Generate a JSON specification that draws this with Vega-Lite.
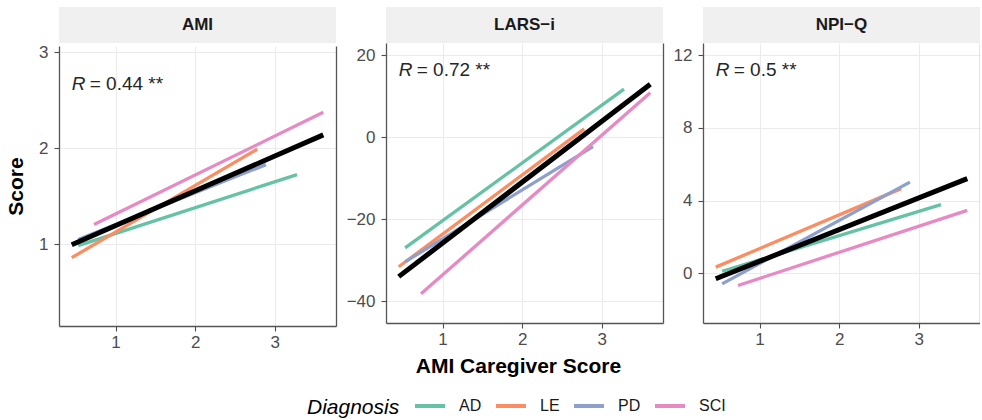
{
  "$schema": "https://vega.github.io/schema/vega-lite/v6.json",
  "padding": {"left": 5, "top": 7, "right": 0, "bottom": 4},
  "background": "white",
  "datasets": {
    "lines": [
      {"Measure": "AMI", "Diagnosis": "AD", "x": 0.53, "y": 0.985},
      {"Measure": "AMI", "Diagnosis": "AD", "x": 3.28, "y": 1.726},
      {"Measure": "AMI", "Diagnosis": "LE", "x": 0.45, "y": 0.86},
      {"Measure": "AMI", "Diagnosis": "LE", "x": 2.78, "y": 1.99},
      {"Measure": "AMI", "Diagnosis": "PD", "x": 0.53, "y": 1.05},
      {"Measure": "AMI", "Diagnosis": "PD", "x": 2.89, "y": 1.83},
      {"Measure": "AMI", "Diagnosis": "SCI", "x": 0.73, "y": 1.205},
      {"Measure": "AMI", "Diagnosis": "SCI", "x": 3.61, "y": 2.375},
      {"Measure": "LARS-i", "Diagnosis": "AD", "x": 0.53, "y": -27.0},
      {"Measure": "LARS-i", "Diagnosis": "AD", "x": 3.28, "y": 11.7},
      {"Measure": "LARS-i", "Diagnosis": "LE", "x": 0.45, "y": -31.6},
      {"Measure": "LARS-i", "Diagnosis": "LE", "x": 2.78, "y": 2.0},
      {"Measure": "LARS-i", "Diagnosis": "PD", "x": 0.53, "y": -30.4},
      {"Measure": "LARS-i", "Diagnosis": "PD", "x": 2.89, "y": -2.3},
      {"Measure": "LARS-i", "Diagnosis": "SCI", "x": 0.73, "y": -38.2},
      {"Measure": "LARS-i", "Diagnosis": "SCI", "x": 3.61, "y": 10.8},
      {"Measure": "NPI-Q", "Diagnosis": "AD", "x": 0.53, "y": 0.12},
      {"Measure": "NPI-Q", "Diagnosis": "AD", "x": 3.28, "y": 3.78},
      {"Measure": "NPI-Q", "Diagnosis": "LE", "x": 0.45, "y": 0.35},
      {"Measure": "NPI-Q", "Diagnosis": "LE", "x": 2.78, "y": 4.66},
      {"Measure": "NPI-Q", "Diagnosis": "PD", "x": 0.53, "y": -0.57},
      {"Measure": "NPI-Q", "Diagnosis": "PD", "x": 2.89, "y": 5.02},
      {"Measure": "NPI-Q", "Diagnosis": "SCI", "x": 0.73, "y": -0.66},
      {"Measure": "NPI-Q", "Diagnosis": "SCI", "x": 3.61, "y": 3.47}
    ],
    "overall": [
      {"Measure": "AMI", "x": 0.45, "y": 0.995},
      {"Measure": "AMI", "x": 3.61, "y": 2.14},
      {"Measure": "LARS-i", "x": 0.45, "y": -34.0},
      {"Measure": "LARS-i", "x": 3.61, "y": 12.9},
      {"Measure": "NPI-Q", "x": 0.45, "y": -0.29},
      {"Measure": "NPI-Q", "x": 3.61, "y": 5.21}
    ],
    "labels": [
      {"Measure": "AMI", "strip": "AMI", "x": 0.45, "y": 2.611, "stat": "= 0.44 **"},
      {"Measure": "LARS-i", "strip": "LARS−i", "x": 0.45, "y": 14.82, "stat": "= 0.72 **"},
      {"Measure": "NPI-Q", "strip": "NPI−Q", "x": 0.45, "y": 10.84, "stat": "= 0.5 **"}
    ]
  },
  "spacing": 10,
  "hconcat": [
    {
      "spacing": 0,
      "vconcat": [
        {
          "width": 277, "height": 36,
          "view": {"fill": "#F0F0F0", "stroke": null},
          "data": {"name": "labels"},
          "transform": [{"filter": "datum.Measure === 'AMI'"}],
          "mark": {"type": "text", "fontSize": 17, "fontWeight": "bold", "color": "#1A1A1A", "baseline": "middle"},
          "encoding": {"text": {"field": "strip"}}
        },
        {
          "width": 277, "height": 280,
          "view": {"stroke": null},
          "layer": [
            {
              "data": {"name": "lines"},
              "transform": [{"filter": "datum.Measure === 'AMI'"}],
              "mark": {"type": "line", "strokeWidth": 3.3, "strokeCap": "butt"},
              "encoding": {
                "x": {"field": "x", "type": "quantitative", "scale": {"domain": [0.29, 3.77], "nice": false, "zero": false}, "axis": {"values": [1, 2, 3], "format": "d", "title": null}},
                "y": {"field": "y", "type": "quantitative", "scale": {"domain": [0.148, 3.066], "nice": false, "zero": false}, "axis": {"values": [1, 2, 3], "format": "d", "title": "Score"}},
                "color": {"field": "Diagnosis", "type": "nominal", "scale": {"domain": ["AD", "LE", "PD", "SCI"], "range": ["#66C2A5", "#FC8D62", "#8DA0CB", "#E78AC3"]}, "legend": {"title": "Diagnosis"}}
              }
            },
            {
              "data": {"name": "overall"},
              "transform": [{"filter": "datum.Measure === 'AMI'"}],
              "mark": {"type": "line", "strokeWidth": 5, "color": "black", "strokeCap": "butt"},
              "encoding": {
                "x": {"field": "x", "type": "quantitative"},
                "y": {"field": "y", "type": "quantitative", "axis": null}
              }
            },
            {
              "data": {"name": "labels"},
              "transform": [{"filter": "datum.Measure === 'AMI'"}],
              "mark": {"type": "text", "fontSize": 19, "fontStyle": "italic", "align": "left", "baseline": "alphabetic", "color": "#262626"},
              "encoding": {
                "x": {"field": "x", "type": "quantitative"},
                "y": {"field": "y", "type": "quantitative", "axis": {"orient": "right", "labels": false, "ticks": false, "grid": false, "title": null}},
                "text": {"value": "R"}
              }
            },
            {
              "data": {"name": "labels"},
              "transform": [{"filter": "datum.Measure === 'AMI'"}],
              "mark": {"type": "text", "fontSize": 19, "align": "left", "baseline": "alphabetic", "dx": 18, "color": "#262626"},
              "encoding": {
                "x": {"field": "x", "type": "quantitative"},
                "y": {"field": "y", "type": "quantitative", "axis": null},
                "text": {"field": "stat"}
              }
            }
          ],
          "resolve": {"axis": {"y": "independent"}}
        }
      ]
    },
    {
      "spacing": 0,
      "vconcat": [
        {
          "width": 277, "height": 36,
          "view": {"fill": "#F0F0F0", "stroke": null},
          "data": {"name": "labels"},
          "transform": [{"filter": "datum.Measure === 'LARS-i'"}],
          "mark": {"type": "text", "fontSize": 17, "fontWeight": "bold", "color": "#1A1A1A", "baseline": "middle"},
          "encoding": {"text": {"field": "strip"}}
        },
        {
          "width": 277, "height": 280,
          "view": {"stroke": null},
          "layer": [
            {
              "data": {"name": "lines"},
              "transform": [{"filter": "datum.Measure === 'LARS-i'"}],
              "mark": {"type": "line", "strokeWidth": 3.3, "strokeCap": "butt"},
              "encoding": {
                "x": {"field": "x", "type": "quantitative", "scale": {"domain": [0.29, 3.77], "nice": false, "zero": false}, "axis": {"values": [1, 2, 3], "format": "d", "title": "AMI Caregiver Score", "titleX": 132}},
                "y": {"field": "y", "type": "quantitative", "scale": {"domain": [-45.3, 22.93], "nice": false, "zero": false}, "axis": {"values": [-40, -20, 0, 20], "format": "d", "title": null}},
                "color": {"field": "Diagnosis", "type": "nominal", "scale": {"domain": ["AD", "LE", "PD", "SCI"], "range": ["#66C2A5", "#FC8D62", "#8DA0CB", "#E78AC3"]}, "legend": {"title": "Diagnosis"}}
              }
            },
            {
              "data": {"name": "overall"},
              "transform": [{"filter": "datum.Measure === 'LARS-i'"}],
              "mark": {"type": "line", "strokeWidth": 5, "color": "black", "strokeCap": "butt"},
              "encoding": {
                "x": {"field": "x", "type": "quantitative"},
                "y": {"field": "y", "type": "quantitative", "axis": null}
              }
            },
            {
              "data": {"name": "labels"},
              "transform": [{"filter": "datum.Measure === 'LARS-i'"}],
              "mark": {"type": "text", "fontSize": 19, "fontStyle": "italic", "align": "left", "baseline": "alphabetic", "color": "#262626"},
              "encoding": {
                "x": {"field": "x", "type": "quantitative"},
                "y": {"field": "y", "type": "quantitative", "axis": {"orient": "right", "labels": false, "ticks": false, "grid": false, "title": null}},
                "text": {"value": "R"}
              }
            },
            {
              "data": {"name": "labels"},
              "transform": [{"filter": "datum.Measure === 'LARS-i'"}],
              "mark": {"type": "text", "fontSize": 19, "align": "left", "baseline": "alphabetic", "dx": 18, "color": "#262626"},
              "encoding": {
                "x": {"field": "x", "type": "quantitative"},
                "y": {"field": "y", "type": "quantitative", "axis": null},
                "text": {"field": "stat"}
              }
            }
          ],
          "resolve": {"axis": {"y": "independent"}}
        }
      ]
    },
    {
      "spacing": 0,
      "vconcat": [
        {
          "width": 277, "height": 36,
          "view": {"fill": "#F0F0F0", "stroke": null},
          "data": {"name": "labels"},
          "transform": [{"filter": "datum.Measure === 'NPI-Q'"}],
          "mark": {"type": "text", "fontSize": 17, "fontWeight": "bold", "color": "#1A1A1A", "baseline": "middle"},
          "encoding": {"text": {"field": "strip"}}
        },
        {
          "width": 277, "height": 280,
          "view": {"stroke": null},
          "layer": [
            {
              "data": {"name": "lines"},
              "transform": [{"filter": "datum.Measure === 'NPI-Q'"}],
              "mark": {"type": "line", "strokeWidth": 3.3, "strokeCap": "butt"},
              "encoding": {
                "x": {"field": "x", "type": "quantitative", "scale": {"domain": [0.29, 3.77], "nice": false, "zero": false}, "axis": {"values": [1, 2, 3], "format": "d", "title": null}},
                "y": {"field": "y", "type": "quantitative", "scale": {"domain": [-2.72, 12.66], "nice": false, "zero": false}, "axis": {"values": [0, 4, 8, 12], "format": "d", "title": null}},
                "color": {"field": "Diagnosis", "type": "nominal", "scale": {"domain": ["AD", "LE", "PD", "SCI"], "range": ["#66C2A5", "#FC8D62", "#8DA0CB", "#E78AC3"]}, "legend": {"title": "Diagnosis"}}
              }
            },
            {
              "data": {"name": "overall"},
              "transform": [{"filter": "datum.Measure === 'NPI-Q'"}],
              "mark": {"type": "line", "strokeWidth": 5, "color": "black", "strokeCap": "butt"},
              "encoding": {
                "x": {"field": "x", "type": "quantitative"},
                "y": {"field": "y", "type": "quantitative", "axis": null}
              }
            },
            {
              "data": {"name": "labels"},
              "transform": [{"filter": "datum.Measure === 'NPI-Q'"}],
              "mark": {"type": "text", "fontSize": 19, "fontStyle": "italic", "align": "left", "baseline": "alphabetic", "color": "#262626"},
              "encoding": {
                "x": {"field": "x", "type": "quantitative"},
                "y": {"field": "y", "type": "quantitative", "axis": {"orient": "right", "labels": false, "ticks": false, "grid": false, "title": null}},
                "text": {"value": "R"}
              }
            },
            {
              "data": {"name": "labels"},
              "transform": [{"filter": "datum.Measure === 'NPI-Q'"}],
              "mark": {"type": "text", "fontSize": 19, "align": "left", "baseline": "alphabetic", "dx": 18, "color": "#262626"},
              "encoding": {
                "x": {"field": "x", "type": "quantitative"},
                "y": {"field": "y", "type": "quantitative", "axis": null},
                "text": {"field": "stat"}
              }
            }
          ],
          "resolve": {"axis": {"y": "independent"}}
        }
      ]
    }
  ],
  "config": {
    "font": "Liberation Sans",
    "axis": {
      "labelFontSize": 17,
      "labelColor": "#4D4D4D",
      "tickColor": "#4D4D4D",
      "tickSize": 5,
      "tickWidth": 1.1,
      "domainColor": "#555555",
      "domainWidth": 1.3,
      "gridColor": "#EBEBEB",
      "gridWidth": 1,
      "titleFontSize": 21,
      "titleFontWeight": "bold",
      "titleColor": "#000000"
    },
    "axisX": {"labelPadding": 3, "titlePadding": 8},
    "axisY": {"labelPadding": 6, "titlePadding": 12},
    "legend": {
      "orient": "none",
      "legendX": 248,
      "legendY": 382,
      "direction": "horizontal",
      "titleOrient": "left",
      "titleAnchor": "end",
      "titleBaseline": "alphabetic",
      "titleFontSize": 21,
      "titleFontStyle": "italic",
      "titleFontWeight": "normal",
      "titleColor": "#000000",
      "titlePadding": 13,
      "labelFontSize": 16,
      "labelColor": "#1A1A1A",
      "labelOffset": 12,
      "columnPadding": 6,
      "symbolType": "stroke",
      "symbolSize": 900,
      "symbolStrokeWidth": 4
    }
  }
}
